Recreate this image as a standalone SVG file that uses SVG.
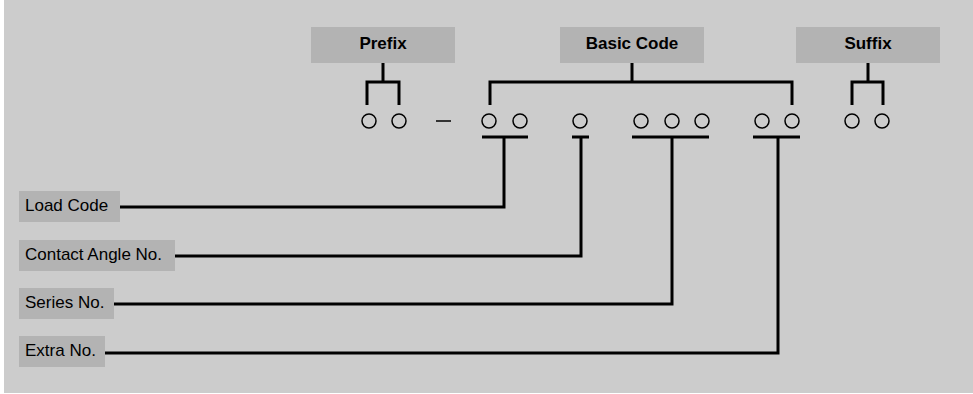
<svg xmlns="http://www.w3.org/2000/svg" width="973" height="394" viewBox="0 0 973 394">
<style>
.hdr{fill:#b3b3b3}
.hdrt{font-family:"Liberation Sans",Arial,sans-serif;font-size:17px;font-weight:bold;fill:#000;text-anchor:middle}
.lab{fill:#b3b3b3}
.labt{font-family:"Liberation Sans",Arial,sans-serif;font-size:17px;fill:#000}
.c{fill:none;stroke:#000;stroke-width:1.5}
.ln{fill:none;stroke:#000;stroke-width:3}
</style>
<rect x="0" y="0" width="973" height="394" fill="#fff"/>
<rect x="4" y="0" width="969" height="393" fill="#cccccc"/>
<g id="prefix">
<rect class="hdr" x="311" y="27" width="144" height="36"/>
<text class="hdrt" x="383" y="49">Prefix</text>
</g>
<g id="basic-code">
<rect class="hdr" x="560" y="27" width="144" height="36"/>
<text class="hdrt" x="632" y="49">Basic Code</text>
</g>
<g id="suffix">
<rect class="hdr" x="796" y="27" width="144" height="36"/>
<text class="hdrt" x="868" y="49">Suffix</text>
</g>
<g id="code-digits">
<circle class="c" cx="369" cy="121" r="7"/>
<circle class="c" cx="399" cy="121" r="7"/>
<line x1="436" y1="121" x2="451" y2="121" stroke="#000" stroke-width="1.5"/>
<circle class="c" cx="489" cy="121" r="7"/>
<circle class="c" cx="520" cy="121" r="7"/>
<circle class="c" cx="580" cy="121" r="7"/>
<circle class="c" cx="641" cy="121" r="7"/>
<circle class="c" cx="672" cy="121" r="7"/>
<circle class="c" cx="702" cy="121" r="7"/>
<circle class="c" cx="762" cy="121" r="7"/>
<circle class="c" cx="792" cy="121" r="7"/>
<circle class="c" cx="852" cy="121" r="7"/>
<circle class="c" cx="882" cy="121" r="7"/>
</g>
<g id="load-code">
<rect class="lab" x="19" y="191" width="101" height="31"/>
<text class="labt" x="25" y="211">Load Code</text>
</g>
<g id="contact-angle">
<rect class="lab" x="19" y="240" width="156" height="31"/>
<text class="labt" x="25" y="260">Contact Angle No.</text>
</g>
<g id="series-no">
<rect class="lab" x="19" y="288" width="95" height="31"/>
<text class="labt" x="25" y="308">Series No.</text>
</g>
<g id="extra-no">
<rect class="lab" x="19" y="336" width="86" height="31"/>
<text class="labt" x="25" y="356">Extra No.</text>
</g>
<g id="connectors">
<path class="ln" d="M383 63V82M367 105V82H399V105"/>
<path class="ln" d="M632 63V82M490 105V82H792V105"/>
<path class="ln" d="M868 63V82M852 105V82H883V105"/>
<path class="ln" d="M482 137H528M504 137V207H120"/>
<path class="ln" d="M572 137H589M581 137V256H175"/>
<path class="ln" d="M632 137H709M672 137V304H114"/>
<path class="ln" d="M753 137H800M778 137V353H105"/>
</g>
</svg>
